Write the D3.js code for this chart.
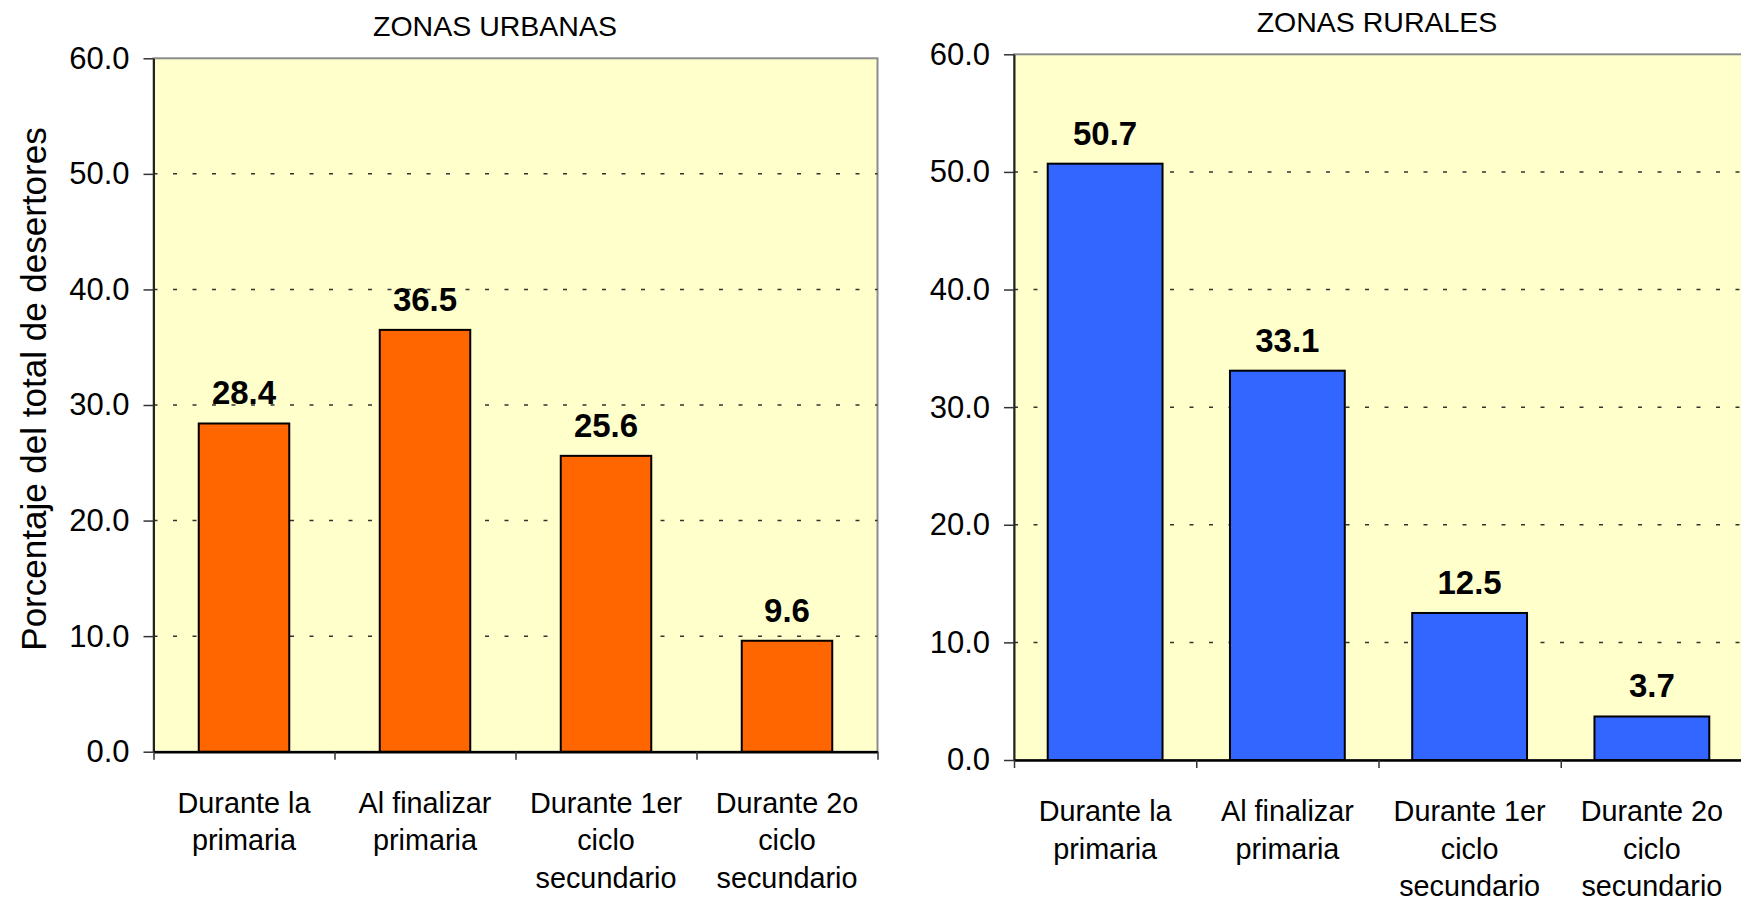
<!DOCTYPE html>
<html>
<head>
<meta charset="utf-8">
<script src="https://cdn.jsdelivr.net/npm/d3@7"></script>
<style>
  body { margin: 0; background: #fff; }
  svg text { font-family: "Liberation Sans", Arial, sans-serif; fill: #000; }
</style>
</head>
<body>
<div id="chart"></div>
<script>
// categories (each entry is the lines of a label)
var categories = [
	[ "Durante la", "primaria" ],
	[ "Al finalizar", "primaria" ],
	[ "Durante 1er", "ciclo", "secundario" ],
	[ "Durante 2o", "ciclo", "secundario" ]
];
var urbanValues = [ 28.4, 36.5, 25.6, 9.6 ];
var ruralValues = [ 50.7, 33.1, 12.5, 3.7 ];
var yTicks = [ 0, 10, 20, 30, 40, 50, 60 ];
var yAxisTitle = "Porcentaje del total de desertores";

var svg = d3.select("#chart").append("svg").attr("width", 1741).attr(
		"height", 898);

function drawPanel(values, opts) {
	var width = opts.right - opts.left, height = opts.bottom - opts.top;

	var g = svg.append("g").attr("transform",
			"translate(" + opts.left + "," + opts.top + ")");

	var y = d3.scaleLinear().domain([ 0, 60 ]).range([ height, 0 ]);
	var x = d3.scaleBand().domain(d3.range(categories.length)).range(
			[ 0, width ]).paddingInner(opts.pad).paddingOuter(opts.pad / 2);
	var xEdge = d3.scaleLinear().domain([ 0, categories.length ]).range(
			[ 0, width ]);

	// plot area
	g.append("rect").attr("width", width).attr("height", height).attr(
			"fill", "#ffffcc").attr("stroke", "#8c8c8c").attr(
			"stroke-width", 2);

	// dotted grid
	g.selectAll(".grid").data(yTicks.filter(function(d) {
		return d > 0 && d < 60;
	})).enter().append("line").attr("x1", 0).attr("x2", width).attr("y1",
			function(d) {
				return y(d);
			}).attr("y2", function(d) {
		return y(d);
	}).attr("stroke", "#333").attr("stroke-width", 1.5).attr(
			"stroke-dasharray", "4,15.5");

	// bars
	g.selectAll(".bar").data(values).enter().append("rect").attr("x",
			function(d, i) {
				return x(i);
			}).attr("y", function(d) {
		return y(d);
	}).attr("width", x.bandwidth()).attr("height", function(d) {
		return height - y(d);
	}).attr("fill", opts.color).attr("stroke", "#000").attr(
			"stroke-width", 2);

	// value labels
	g.selectAll(".val").data(values).enter().append("text").attr("x",
			function(d, i) {
				return x(i) + x.bandwidth() / 2;
			}).attr("y", function(d) {
		return y(d) - 19;
	}).attr("text-anchor", "middle").style("font-size", "33px").style(
			"font-weight", "bold").text(function(d) {
		return d.toFixed(1);
	});

	// y axis
	var yAxis = g.append("g").call(
			d3.axisLeft(y).tickValues(yTicks).tickFormat(d3.format(".1f"))
					.tickSize(10).tickSizeOuter(0).tickPadding(14));
	yAxis.selectAll("text").style("font-size", "31px");
	yAxis.selectAll("line").attr("stroke", "#333").attr("stroke-width", 1.5);
	yAxis.select(".domain").attr("stroke", "#222").attr("stroke-width", 2);

	// x axis, ticks at category boundaries
	var xAxis = g.append("g").attr("transform", "translate(0," + height + ")")
			.call(
					d3.axisBottom(xEdge).tickValues(
							d3.range(categories.length + 1)).tickFormat("")
							.tickSize(8).tickSizeOuter(0));
	xAxis.selectAll("line").attr("stroke", "#333").attr("stroke-width", 1.5);
	xAxis.select(".domain").attr("stroke", "#000").attr("stroke-width", 2.5);

	// category labels
	var cat = g.selectAll(".cat").data(categories).enter().append("text")
			.attr("text-anchor", "middle").style("font-size", "28.8px").attr(
					"transform", function(d, i) {
						return "translate(" + (x(i) + x.bandwidth() / 2)
								+ "," + (height + 61) + ")";
					});
	cat.selectAll("tspan").data(function(d) {
		return d;
	}).enter().append("tspan").attr("x", 0).attr("y", function(d, j) {
		return j * 37.5;
	}).text(function(d) {
		return d;
	});

	// panel title
	svg.append("text").attr("x", opts.titleX).attr("y", opts.titleY).attr(
			"text-anchor", "middle").style("font-size", "28.5px").text(
			opts.title);
}

drawPanel(urbanValues, {
	left : 153.5,
	right : 877.5,
	top : 58.3,
	bottom : 751.7,
	pad : 0.5,
	color : "#ff6600",
	title : "ZONAS URBANAS",
	titleX : 495,
	titleY : 36
});

drawPanel(ruralValues, {
	left : 1014,
	right : 1743,
	top : 54.3,
	bottom : 760,
	pad : 0.37,
	color : "#3366ff",
	title : "ZONAS RURALES",
	titleX : 1377,
	titleY : 32
});

svg.append("text").attr("transform", "translate(46,389) rotate(-90)").attr(
		"text-anchor", "middle").style("font-size", "35px").text(yAxisTitle);
</script>
</body>
</html>
